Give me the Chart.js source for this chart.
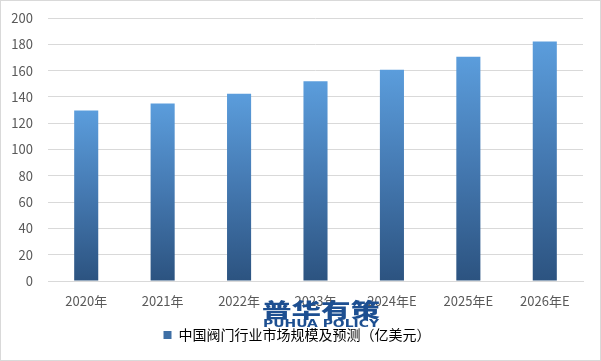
<!DOCTYPE html>
<html>
<head>
<meta charset="utf-8">
<script src="https://cdn.jsdelivr.net/npm/chart.js@4/dist/chart.umd.min.js"></script>
<style>
  html, body { margin: 0; padding: 0; background: #fff; }
  #wrap { width: 599px; height: 359px; border: 1px solid #d9d9d9; position: relative; }
</style>
</head>
<body>
<div id="wrap"><canvas id="chart"></canvas></div>
<script>
const labels = ["2020年", "2021年", "2022年", "2023年", "2024年E", "2025年E", "2026年E"];
const values = [129.7, 135.0, 142.4, 151.9, 160.7, 170.6, 182.1];
const seriesName = "中国阀门行业市场规模及预测（亿美元）";

const ctx = document.getElementById("chart");

function barGradient(context) {
  const chart = context.chart;
  if (!chart.chartArea || !chart.scales.y) return "#4a86c5";
  const y = chart.scales.y;
  const top = y.getPixelForValue(values[context.dataIndex]);
  const bottom = y.getPixelForValue(0);
  const g = chart.ctx.createLinearGradient(0, top, 0, bottom);
  g.addColorStop(0, "#5b9ddc");
  g.addColorStop(0.5, "#4478b0");
  g.addColorStop(1, "#2c5380");
  return g;
}

// logo stamped over the bottom of the chart
function stretchedText(c, text, cx, cy, width) {
  const w = c.measureText(text).width;
  c.save();
  c.translate(cx, cy);
  c.scale(width / w, 1);
  c.fillText(text, 0, 0);
  c.restore();
}

const watermark = {
  id: "watermark",
  afterDraw(chart) {
    const c = chart.ctx;
    c.save();
    c.fillStyle = "#1d4f91";
    c.textAlign = "center";
    c.textBaseline = "middle";
    c.font = "900 20px 'Noto Sans CJK SC'";
    stretchedText(c, "普华有策", 320, 309, 118);
    c.font = "bold 10px 'DejaVu Sans'";
    stretchedText(c, "PUHUA POLICY", 320, 323, 116);
    c.restore();
  },
};

Chart.defaults.font.family = "'Noto Sans CJK SC', 'Liberation Sans', sans-serif";
Chart.defaults.color = "#595959";

new Chart(ctx, {
  type: "bar",
  data: {
    labels: labels,
    datasets: [
      {
        label: seriesName,
        data: values,
        backgroundColor: barGradient,
        borderWidth: 0,
        categoryPercentage: 1,
        barPercentage: 0.315,
      },
    ],
  },
  options: {
    animation: false,
    responsive: true,
    maintainAspectRatio: false,
    plugins: {
      tooltip: { enabled: false },
      legend: {
        position: "bottom",
        labels: {
          boxWidth: 8,
          boxHeight: 8,
          padding: 8,
          color: "#595959",
          font: { size: 14 },
          generateLabels(chart) {
            return [{
              text: seriesName,
              fillStyle: "#3e6fa5",
              strokeStyle: "#3e6fa5",
              lineWidth: 0,
              datasetIndex: 0,
            }];
          },
        },
      },
    },
    scales: {
      y: {
        min: 0,
        max: 200,
        ticks: { stepSize: 20, padding: 15, font: { size: 13 }, color: "#595959" },
        grid: { color: "#d9d9d9", drawTicks: false },
        border: { display: false },
        afterFit(scale) {
          scale.width = 37;
          scale.paddingTop = 0;
          scale.paddingBottom = 0;
        },
      },
      x: {
        ticks: { padding: 12, font: { size: 13 }, color: "#595959", maxRotation: 0 },
        grid: { display: false, drawTicks: false },
        border: { color: "#d9d9d9" },
        afterFit(scale) { scale.height = 39; },
      },
    },
    layout: {
      padding: { left: 10, right: 17, top: 17, bottom: 8 },
    },
  },
  plugins: [watermark],
});
</script>
</body>
</html>
